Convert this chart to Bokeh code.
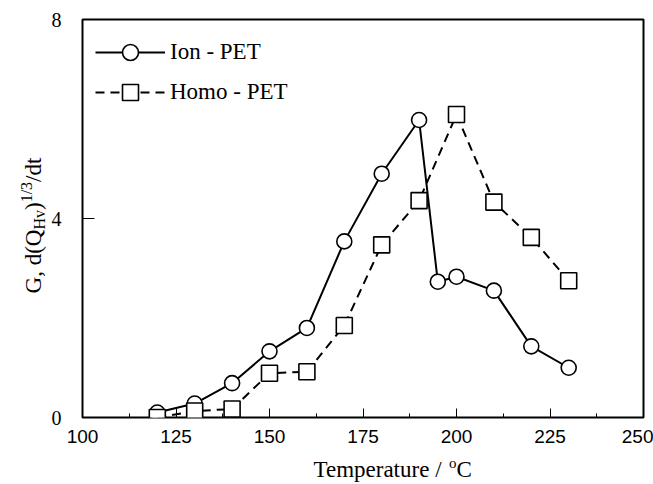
import math
from bokeh.plotting import figure
from bokeh.layouts import column, row
from bokeh.models import Legend, LegendItem, SingleIntervalTicker, Range1d
from bokeh.core.properties import value
from bokeh.embed import file_html
from bokeh.resources import INLINE

# Growth rate vs. temperature for two PET samples
temp_ion = [120, 130, 140, 150, 160, 170, 180, 190, 195, 200, 210, 220, 230]
g_ion = [0.10, 0.28, 0.69, 1.33, 1.80, 3.54, 4.90, 5.98, 2.73, 2.83, 2.55, 1.43, 1.00]

temp_homo = [120, 130, 140, 150, 160, 170, 180, 190, 200, 210, 220, 230]
g_homo = [0.00, 0.13, 0.17, 0.89, 0.92, 1.85, 3.47, 4.36, 6.09, 4.33, 3.62, 2.75]

label_ion = "Ion - PET"
label_homo = "Homo - PET"

SERIF = "Liberation Serif"
SANS = "Liberation Sans"

W, H = 653, 484
YSTRIP = 48          # width of the strip holding the vertical title
XSTRIP = 30          # height of the strip holding the horizontal title
MAIN_W, MAIN_H = W - YSTRIP, H - XSTRIP
TOP, BOTTOM = 19, 37  # borders of the main plot above / below its frame

p = figure(width=MAIN_W, height=MAIN_H, x_range=(100, 250), y_range=(0, 8),
           output_backend="svg", toolbar_location=None,
           min_border_left=80 - YSTRIP, min_border_right=10,
           min_border_top=TOP, min_border_bottom=BOTTOM)
p.background_fill_color = "white"
p.border_fill_color = "white"
p.outline_line_color = "black"
p.outline_line_width = 2
p.xgrid.visible = False
p.ygrid.visible = False

xa = p.xaxis[0]
xa.ticker = SingleIntervalTicker(interval=25, num_minor_ticks=2)
xa.axis_line_color = None
xa.major_tick_in = 9
xa.major_tick_out = 0
xa.minor_tick_in = 4
xa.minor_tick_out = 0
xa.major_label_standoff = 12
xa.major_label_text_font = SANS
xa.major_label_text_font_size = "19px"
xa.major_label_text_color = "black"

ya = p.yaxis[0]
ya.ticker = SingleIntervalTicker(interval=4, num_minor_ticks=0)
ya.axis_line_color = None
ya.major_tick_in = 12
ya.major_tick_out = 0
ya.minor_tick_line_color = None
ya.major_label_standoff = 21
ya.major_label_text_font = SERIF
ya.major_label_text_font_size = "20px"
ya.major_label_text_color = "black"

# series
l_ion = p.line(temp_ion, g_ion, line_color="black", line_width=2)
s_ion = p.scatter(temp_ion, g_ion, marker="circle", size=15,
                  fill_color="white", line_color="black", line_width=1.6)
l_homo = p.line(temp_homo, g_homo, line_color="black", line_width=2,
                line_dash="9 6")
s_homo = p.scatter(temp_homo, g_homo, marker="square", size=16,
                   fill_color="white", line_color="black", line_width=1.6)

legend = Legend(items=[LegendItem(label=label_ion, renderers=[l_ion, s_ion]),
                       LegendItem(label=label_homo, renderers=[l_homo, s_homo])],
                location="top_left", margin=13, padding=0, spacing=0,
                glyph_width=70, glyph_height=40, label_standoff=5,
                label_text_font=SERIF, label_text_font_size="23px",
                label_text_color="black",
                border_line_color=None, background_fill_alpha=0)
p.add_layout(legend)

# Times-like advance widths (em) used to lay out mixed-size title runs
ADV = {"G": .722, ",": .25, " ": .25, "d": .5, "(": .333, "Q": .722,
       "H": .722, "v": .5, ")": .333, "1": .5, "/": .278, "3": .5,
       "t": .278, "T": .611, "e": .444, "m": .778, "p": .5, "r": .333,
       "a": .444, "u": .5, "o": .5, "C": .667}
MID = 0.34   # distance from the baseline to the middle of the line box, in em


def run_width(s, size):
    return sum(ADV.get(c, .5) for c in s) * size


def strip(width, height, xr, yr, **borders):
    # axis-free canvas whose data units are pixels, for the axis titles
    f = figure(width=width, height=height, x_range=xr, y_range=yr,
               output_backend="svg", toolbar_location=None,
               x_axis_location=None, y_axis_location=None,
               outline_line_color=None, **borders)
    f.grid.visible = False
    f.background_fill_color = "white"
    f.border_fill_color = "white"
    return f


# vertical title: G, d(Q_Hv)^{1/3}/dt, read bottom to top.
# Its frame lines up with the main frame; data y = pixels above the strip foot.
ylab = strip(YSTRIP, MAIN_H, Range1d(0, YSTRIP),
             Range1d(BOTTOM, MAIN_H - TOP),
             min_border_left=0, min_border_right=0,
             min_border_top=TOP, min_border_bottom=BOTTOM)
FY, fy = 23, 16
y_runs = [("G, d(Q", FY, 0), ("Hv", fy, 3), (")", FY, 0),
          ("1/3", fy, -10), ("/dt", FY, 0)]
total = sum(run_width(s, f) for s, f, _ in y_runs)
from_top = 225 + total / 2
base_x = 41
for s, f, shift in y_runs:
    ylab.text(x=[base_x + shift - MID * f], y=[MAIN_H - from_top], text=[s],
              angle=math.pi / 2,
              text_align="left", text_baseline="middle",
              text_font=value(SERIF), text_font_size=value(f"{f}px"),
              text_color="black")
    from_top -= run_width(s, f)

# horizontal title: Temperature / °C with a raised o
xlab = strip(W, XSTRIP, Range1d(0, W), Range1d(0, XSTRIP), min_border=0)
FX, fx = 23, 15
x_runs = [("Temperature / ", FX, 0), ("o", fx, 9), ("C", FX, 0)]
left = 313
baseline_up = H - 477               # baseline height above the page foot
for s, f, lift in x_runs:
    xlab.text(x=[left], y=[baseline_up + lift + MID * f], text=[s],
              text_align="left", text_baseline="middle",
              text_font=value(SERIF), text_font_size=value(f"{f}px"),
              text_color="black")
    left += run_width(s, f)

layout = column(row(ylab, p, spacing=0), xlab, spacing=0)

open("out.html", "w").write(file_html(layout, INLINE))
